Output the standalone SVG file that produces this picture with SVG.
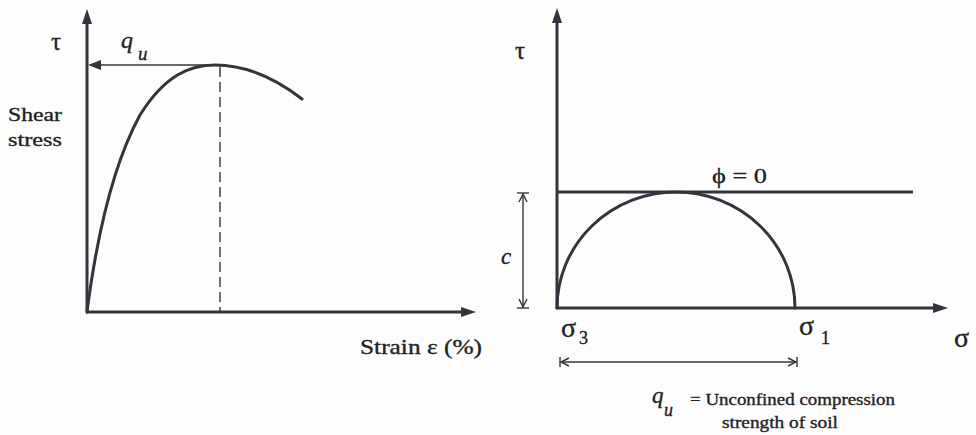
<svg xmlns="http://www.w3.org/2000/svg" width="976" height="435" viewBox="0 0 976 435">
<defs>
<style>
.ax{stroke:#34343c;stroke-width:3;fill:none}
.thin{stroke:#34343c;stroke-width:1.4;fill:none}
.crv{stroke:#34343c;stroke-width:3;fill:none;stroke-linecap:round}
.head{fill:#34343c}
.t{font-family:"Liberation Serif","Times New Roman",serif;fill:#222;stroke:#222;stroke-width:0.35}
.it{font-style:italic}
</style>
</defs>
<rect width="976" height="435" fill="#fdfdfd"/>
<g id="left-plot">
<g id="left-axes">
<line class="ax" x1="87" y1="20" x2="87" y2="312"/>
<path class="head" d="M87,9 L82,24 L92,24 Z"/>
<line class="ax" x1="86" y1="312" x2="465" y2="312"/>
<path class="head" d="M476,312 L461,307 L461,317 Z"/>
</g>
<g id="stress-strain-curve">
<path class="crv" d="M87,312 C95,250 110,170 140,115 C165,75 190,65 215,65 C250,65 280,82 302,99"/>
</g>
<g id="peak-dashed">
<line class="thin" x1="220" y1="67" x2="220" y2="312" stroke-dasharray="10 5"/>
</g>
<g id="qu-arrow">
<line class="thin" x1="97" y1="65" x2="216" y2="65"/>
<path class="head" d="M88,65 L101,60 L101,70 Z"/>
</g>
<g id="left-labels">
<text class="t" x="51" y="50" font-size="25">τ</text>
<text class="t it" x="121" y="48" font-size="24">q</text>
<text class="t it" x="138" y="60" font-size="19">u</text>
<text class="t" x="8" y="121" font-size="19" textLength="54" lengthAdjust="spacingAndGlyphs">Shear</text>
<text class="t" x="8" y="146" font-size="19" textLength="54" lengthAdjust="spacingAndGlyphs">stress</text>
<text class="t" x="360" y="354" font-size="21" textLength="122" lengthAdjust="spacingAndGlyphs">Strain ε (%)</text>
</g>
</g>
<g id="right-plot">
<g id="right-axes">
<line class="ax" x1="557" y1="19" x2="557" y2="309"/>
<path class="head" d="M557,8 L552,23 L562,23 Z"/>
<line class="ax" x1="556" y1="308" x2="937" y2="308"/>
<path class="head" d="M948,308 L933,303 L933,313 Z"/>
</g>
<g id="failure-envelope">
<line class="ax" x1="557" y1="192" x2="913" y2="192" stroke-width="2.5"/>
</g>
<g id="mohr-circle">
<path class="crv" d="M557,308 A119,116 0 0 1 795,308"/>
</g>
<g id="c-dimension">
<line class="thin" x1="523" y1="194" x2="523" y2="307"/>
<line class="thin" x1="517" y1="193" x2="529" y2="193"/>
<polyline class="thin" points="519,202 523,194 527,202"/>
<line class="thin" x1="517" y1="308" x2="529" y2="308"/>
<polyline class="thin" points="519,299 523,307 527,299"/>
</g>
<g id="qu-dimension">
<line class="thin" x1="561" y1="362" x2="796" y2="362"/>
<line class="thin" x1="560" y1="357" x2="560" y2="367"/>
<polyline class="thin" points="569,358 561,362 569,366"/>
<line class="thin" x1="797" y1="357" x2="797" y2="367"/>
<polyline class="thin" points="788,358 796,362 788,366"/>
</g>
<g id="right-labels">
<text class="t" x="515" y="59" font-size="25">τ</text>
<text class="t" x="712" y="183" font-size="22" textLength="55" lengthAdjust="spacingAndGlyphs">ϕ = 0</text>
<text class="t it" x="501" y="264" font-size="23">c</text>
<text class="t" x="561" y="337" font-size="28">σ</text>
<text class="t" x="579" y="344" font-size="18">3</text>
<text class="t" x="799" y="335" font-size="28">σ</text>
<text class="t" x="821" y="344" font-size="18">1</text>
<text class="t" x="954" y="347" font-size="28">σ</text>
<text class="t it" x="652" y="403" font-size="23">q</text>
<text class="t it" x="664" y="416" font-size="18">u</text>
<text class="t" x="690" y="405" font-size="17" textLength="205" lengthAdjust="spacingAndGlyphs">= Unconfined compression</text>
<text class="t" x="722" y="428" font-size="17" textLength="116" lengthAdjust="spacingAndGlyphs">strength of soil</text>
</g>
</g>
</svg>
